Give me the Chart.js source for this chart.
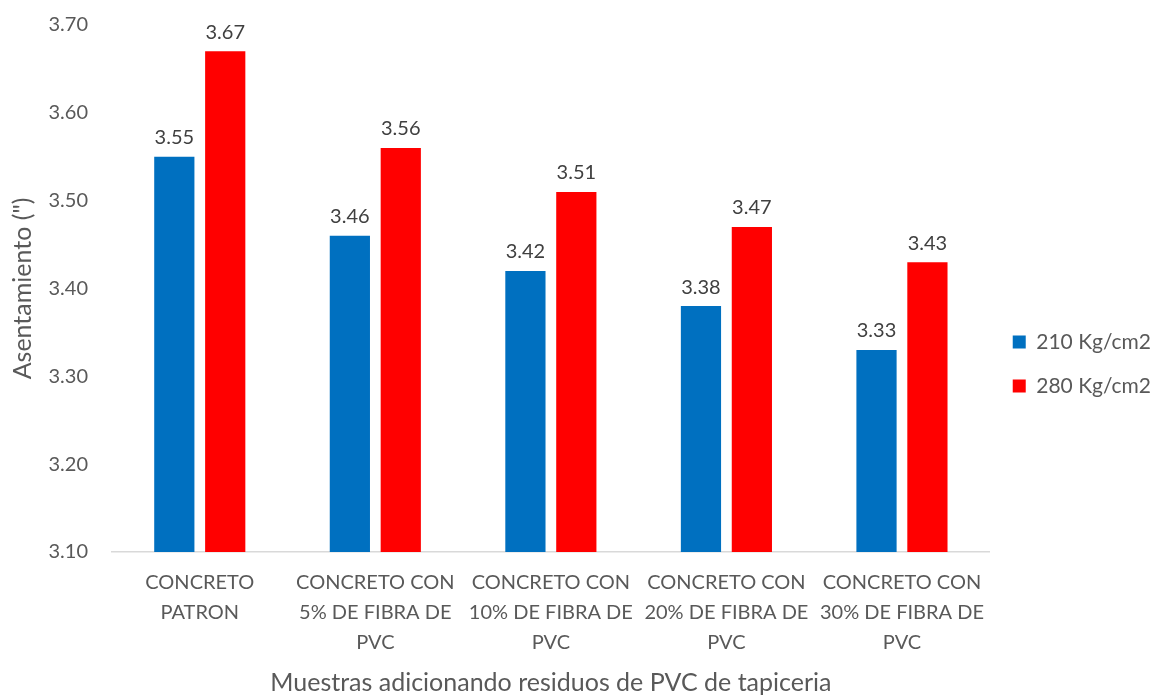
<!DOCTYPE html>
<html>
<head>
<meta charset="utf-8">
<script src="https://cdn.jsdelivr.net/npm/chart.js@4"></script>
<style>
  html, body { margin:0; padding:0; background:#fff; }
  #wrap { width:1157px; height:695px; position:relative; }
</style>
</head>
<body>
<div id="wrap"><canvas id="chart"></canvas></div>
<script>
// categories + series
const categories = [
  ['CONCRETO', 'PATRON'],
  ['CONCRETO CON', '5% DE FIBRA DE', 'PVC'],
  ['CONCRETO CON', '10% DE FIBRA DE', 'PVC'],
  ['CONCRETO CON', '20% DE FIBRA DE', 'PVC'],
  ['CONCRETO CON', '30% DE FIBRA DE', 'PVC']
];
const series210 = [3.55, 3.46, 3.42, 3.38, 3.33];
const series280 = [3.67, 3.56, 3.51, 3.47, 3.43];
const seriesNames = ['210 Kg/cm2', '280 Kg/cm2'];
const yMin = 3.10, yMax = 3.70, yStep = 0.10;

const FONT = 'Lato, "Liberation Sans", sans-serif';
const TXT = '#595959';

// value labels above each bar
const barLabels = {
  id: 'barLabels',
  afterDatasetsDraw(chart){
    const ctx = chart.ctx;
    ctx.save();
    ctx.font = '20px ' + FONT;
    ctx.fillStyle = '#404040';
    ctx.textAlign = 'center';
    ctx.textBaseline = 'bottom';
    chart.data.datasets.forEach((ds, i) => {
      chart.getDatasetMeta(i).data.forEach((bar, j) => {
        ctx.fillText(ds.data[j].toFixed(2), bar.x, bar.y - 9);
      });
    });
    ctx.restore();
  }
};

new Chart(document.getElementById('chart'), {
  type: 'bar',
  data: {
    labels: categories,
    datasets: [
      { label: seriesNames[0], data: series210, backgroundColor: '#0070C0',
        barPercentage: 0.79, categoryPercentage: 0.58 },
      { label: seriesNames[1], data: series280, backgroundColor: '#FF0000',
        barPercentage: 0.79, categoryPercentage: 0.58 }
    ]
  },
  options: {
    responsive: true, maintainAspectRatio: false, animation: false,
    layout: { padding: { top: 0, right: -4, left: 4, bottom: 0 } },
    plugins: {
      legend: {
        position: 'right',
        title: { display: true, text: ' ', font: { size: 4 }, padding: 14 },
        labels: { color: TXT, font: { family: FONT, size: 21 }, boxWidth: 13, boxHeight: 13, padding: 23 }
      },
      tooltip: { enabled: false }
    },
    scales: {
      x: {
        afterFit(scale){ scale.height = 143; },
        grid: { display: false, drawTicks: false },
        border: { color: '#d9d9d9', width: 1.5 },
        ticks: { color: TXT, font: { family: FONT, size: 20, lineHeight: 1.5 }, maxRotation: 0, padding: 16 },
        title: { display: true, text: 'Muestras adicionando residuos de PVC de tapiceria',
                 color: TXT, font: { family: FONT, size: 25, lineHeight: 1 }, padding: { top: 0, bottom: 0 } }
      },
      y: {
        min: yMin, max: yMax,
        afterFit(scale){ scale.width = 108; scale.paddingTop = 25; },
        grid: { display: false, drawTicks: false },
        border: { display: false },
        ticks: { stepSize: yStep, color: TXT, font: { family: FONT, size: 20 }, padding: 24,
                 callback: v => Number(v).toFixed(2) },
        title: { display: true, text: 'Asentamiento (")', color: TXT,
                 font: { family: FONT, size: 25 } }
      }
    }
  },
  plugins: [barLabels]
});
</script>
</body>
</html>
